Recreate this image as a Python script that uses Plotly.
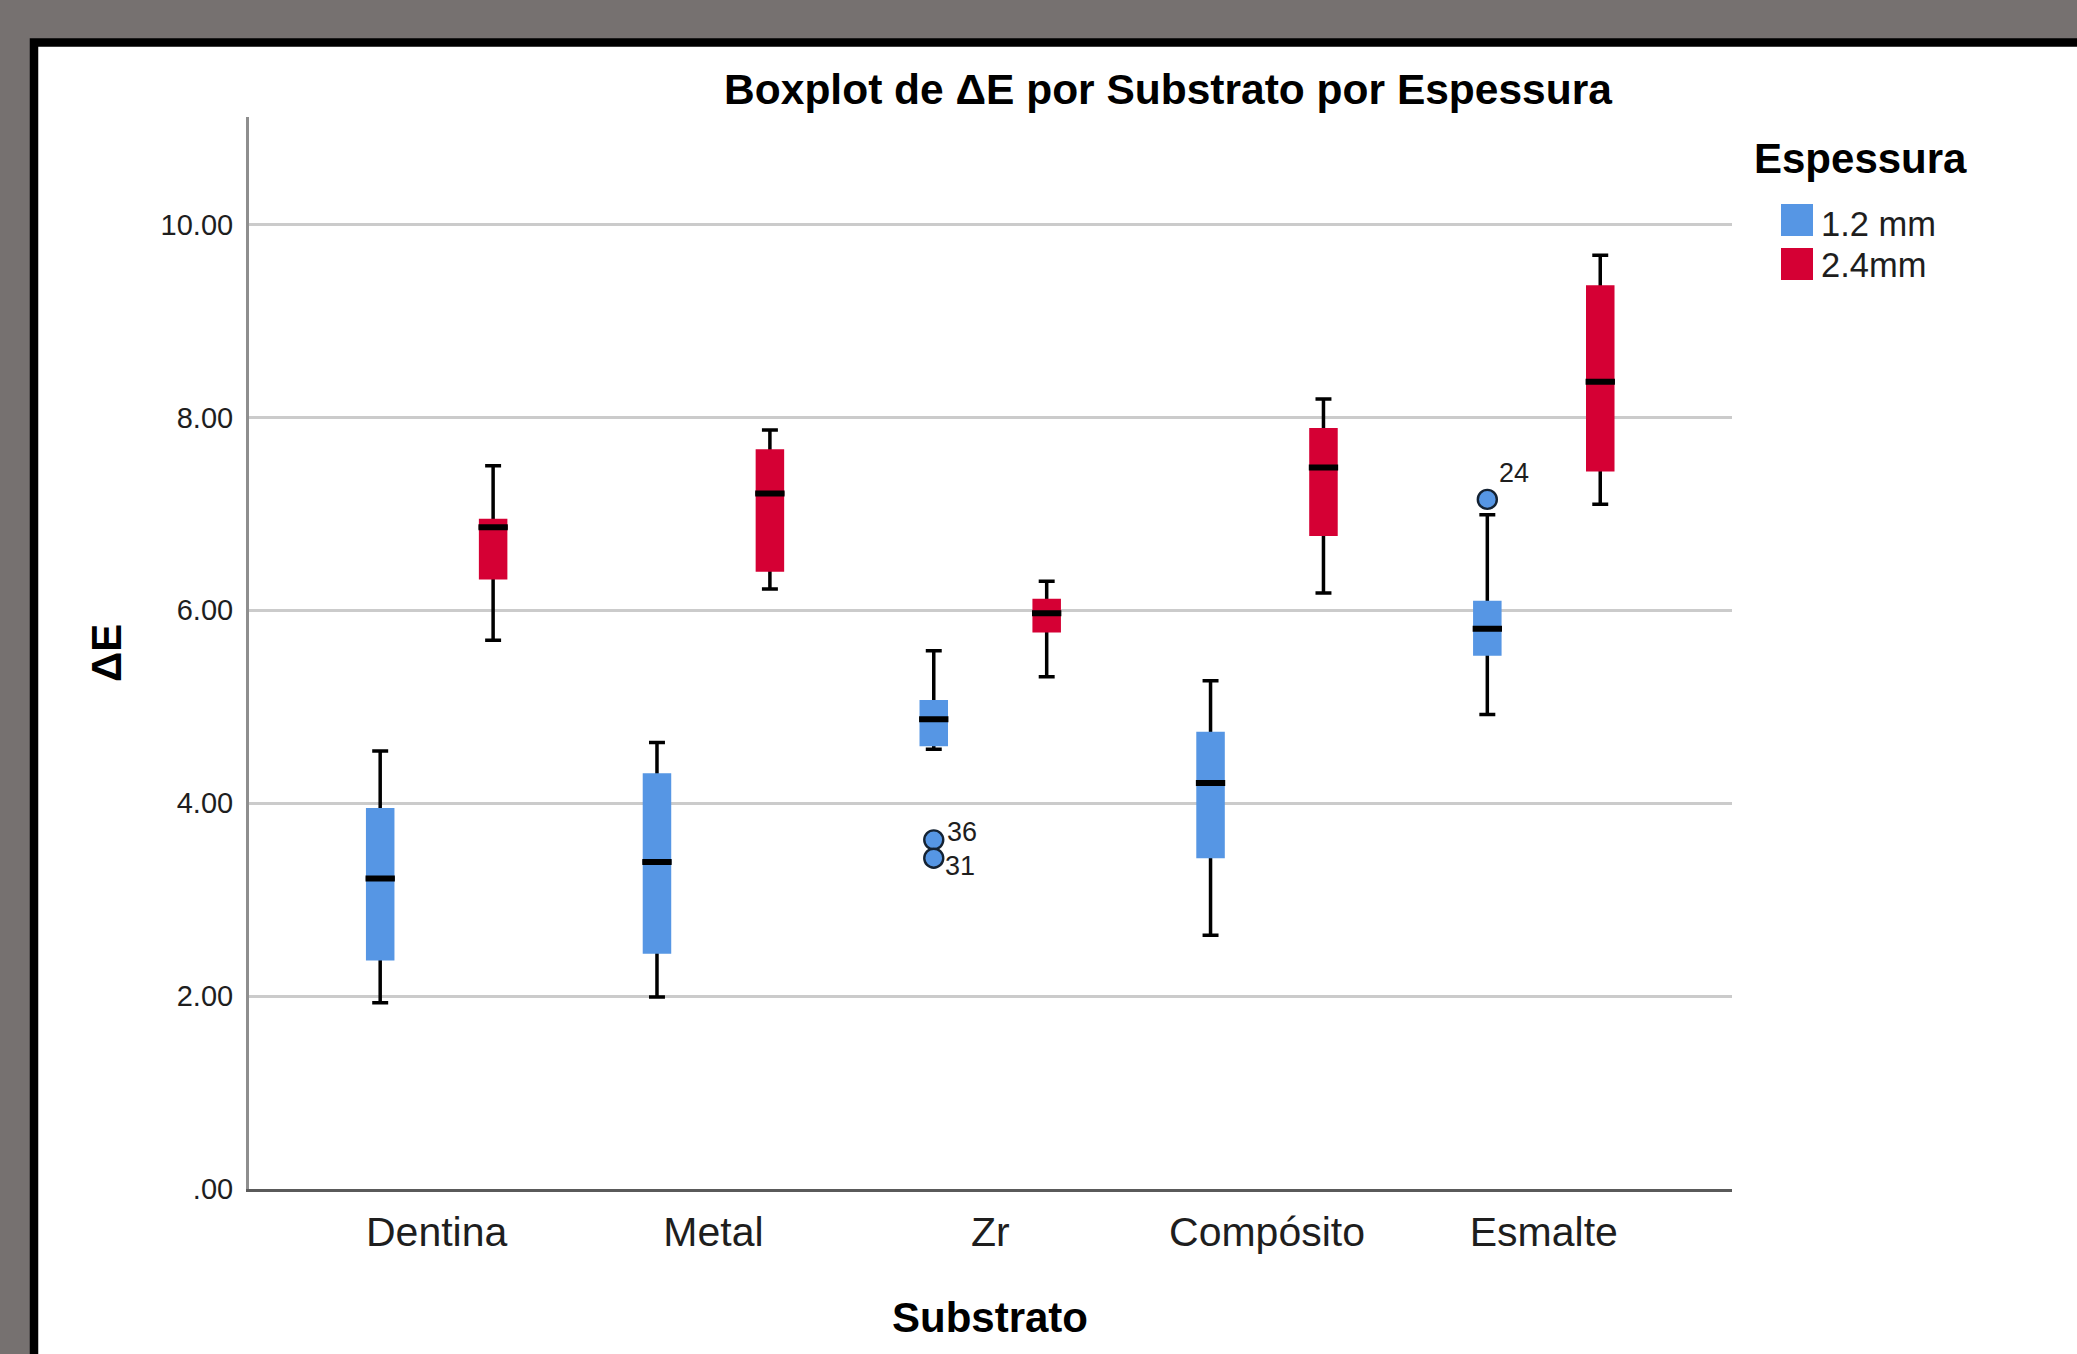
import plotly.graph_objects as go

# ---- data -------------------------------------------------------------
categories = ["Dentina", "Metal", "Zr", "Compósito", "Esmalte"]

# Espessura 1.2 mm
thin_low = [1.93, 1.99, 4.56, 2.63, 4.92]
thin_q1 = [2.37, 2.44, 4.59, 3.43, 5.53]
thin_med = [3.22, 3.39, 4.87, 4.21, 5.81]
thin_q3 = [3.95, 4.31, 5.07, 4.74, 6.10]
thin_high = [4.54, 4.63, 5.58, 5.27, 6.99]

# Espessura 2.4 mm
thick_low = [5.69, 6.22, 5.31, 6.18, 7.10]
thick_q1 = [6.32, 6.40, 5.77, 6.77, 7.44]
thick_med = [6.86, 7.21, 5.97, 7.48, 8.37]
thick_q3 = [6.95, 7.67, 6.12, 7.89, 9.37]
thick_high = [7.50, 7.87, 6.30, 8.19, 9.68]

# outliers (1.2 mm): category index, value, case number
outlier_cat = [2, 2, 4]
outlier_val = [3.62, 3.43, 7.15]
outlier_id = ["36", "31", "24"]

y_tickvals = [0, 2, 4, 6, 8, 10]
y_ticktext = [".00", "2.00", "4.00", "6.00", "8.00", "10.00"]

series_names = ["1.2 mm", "2.4mm"]

# ---- styling ----------------------------------------------------------
W, H = 2077, 1354
L, R, T, B = 249, 1732, 117, 1189          # plot area in pixels
BLUE = "#5696E4"
RED = "#D50034"
FONT = "Liberation Sans, Arial, sans-serif"
TXT = "#1e1e1e"

OFFSET = 0.204      # half distance between paired boxes (category units)
BOX_W = 0.103       # box width (category units)
MED_W = 0.106
CAP = 0.56          # whisker cap relative to box width


def px_x(px):
    return (px - L) / (R - L)


def px_y(py):
    return (B - py) / (B - T)


fig = go.Figure()


def add_group(xs, low, q1, med, q3, high, color):
    # whiskers + caps (black), drawn first so the body covers the inner part
    fig.add_trace(go.Box(
        x=xs, q1=med, median=med, q3=med, lowerfence=low, upperfence=high,
        width=BOX_W, whiskerwidth=CAP, boxpoints=False,
        line=dict(color="black", width=3.5), fillcolor="rgba(0,0,0,0)",
        showlegend=False, hoverinfo="skip"))
    # coloured body
    fig.add_trace(go.Box(
        x=xs, q1=q1, median=q1, q3=q3, lowerfence=q1, upperfence=q3,
        width=BOX_W, whiskerwidth=0, boxpoints=False,
        line=dict(color=color, width=0), fillcolor=color,
        showlegend=False, hoverinfo="skip"))
    # median bar
    fig.add_trace(go.Box(
        x=xs, q1=med, median=med, q3=med, lowerfence=med, upperfence=med,
        width=MED_W, whiskerwidth=0, boxpoints=False,
        line=dict(color="black", width=6), fillcolor="rgba(0,0,0,0)",
        showlegend=False, hoverinfo="skip"))


idx = list(range(len(categories)))
x_thin = [i - OFFSET for i in idx]
x_thick = [i + OFFSET for i in idx]

add_group(x_thin, thin_low, thin_q1, thin_med, thin_q3, thin_high, BLUE)
add_group(x_thick, thick_low, thick_q1, thick_med, thick_q3, thick_high, RED)

# outlier circles
out_x = [c - OFFSET for c in outlier_cat]
fig.add_trace(go.Scatter(
    x=out_x, y=outlier_val, mode="markers",
    marker=dict(size=19, color=BLUE, line=dict(color="#142232", width=2.4)),
    showlegend=False, hoverinfo="skip"))

annotations = []
label_shift = {"36": (11, 8), "31": (9, -8), "24": (10, 26)}
for xv, yv, lab in zip(out_x, outlier_val, outlier_id):
    dx, dy = label_shift[lab]
    annotations.append(dict(
        x=xv, y=yv, xref="x", yref="y", text=lab, showarrow=False,
        xanchor="left", yanchor="middle", xshift=dx, yshift=dy,
        font=dict(family=FONT, size=27, color=TXT)))

# axis titles
annotations.append(dict(
    x=px_x(106), y=px_y(653), xref="paper", yref="paper", text="<b>ΔE</b>",
    textangle=-90, showarrow=False, xanchor="center", yanchor="middle",
    font=dict(family=FONT, size=42, color="black")))
annotations.append(dict(
    x=px_x(990), y=px_y(1317), xref="paper", yref="paper",
    text="<b>Substrato</b>", showarrow=False, xanchor="center",
    yanchor="middle", font=dict(family=FONT, size=42, color="black")))

# legend
annotations.append(dict(
    x=px_x(1752), y=px_y(158), xref="paper", yref="paper",
    text="<b>Espessura</b>", showarrow=False, xanchor="left",
    yanchor="middle", font=dict(family=FONT, size=42, color="black")))
swatches = [(BLUE, 204, 236, 224), (RED, 248, 280, 265)]
shapes = [dict(
    type="rect", xref="paper", yref="paper", layer="below",
    x0=px_x(34), x1=px_x(2300), y0=px_y(42.5), y1=px_y(1600),
    fillcolor="white", line=dict(color="black", width=8.5))]
for (col, top, bot, ty), name in zip(swatches, series_names):
    shapes.append(dict(
        type="rect", xref="paper", yref="paper",
        x0=px_x(1781), x1=px_x(1813), y0=px_y(bot), y1=px_y(top),
        fillcolor=col, line=dict(width=0)))
    annotations.append(dict(
        x=px_x(1819), y=px_y(ty), xref="paper", yref="paper", text=name,
        showarrow=False, xanchor="left", yanchor="middle",
        font=dict(family=FONT, size=34.5, color=TXT)))

fig.update_layout(
    width=W, height=H,
    margin=dict(l=L, r=W - R, t=T, b=H - B, pad=0),
    paper_bgcolor="#767170", plot_bgcolor="white",
    showlegend=False,
    title=dict(text="<b>Boxplot de ΔE por Substrato por Espessura</b>",
               x=1168 / W, xref="container", xanchor="center",
               y=1 - 89 / H, yref="container", yanchor="middle",
               font=dict(family=FONT, size=42.5, color="black")),
    annotations=annotations, shapes=shapes,
)

fig.update_xaxes(
    range=[-0.678, 4.68], tickvals=idx, ticktext=categories,
    showgrid=False, zeroline=False, ticks="", ticklabelstandoff=5,
    showline=True, linecolor="#5a5a5a", linewidth=3,
    tickfont=dict(family=FONT, size=41, color=TXT), fixedrange=True)
fig.update_yaxes(
    range=[0, (B - T) / 96.45], tickvals=y_tickvals, ticktext=y_ticktext,
    showgrid=True, gridcolor="#cbcbcb", gridwidth=2.5, zeroline=False,
    ticks="", ticklabelstandoff=7,
    showline=True, linecolor="#8e8e8e", linewidth=3,
    tickfont=dict(family=FONT, size=29, color=TXT), fixedrange=True)

fig.write_html("out.html")
